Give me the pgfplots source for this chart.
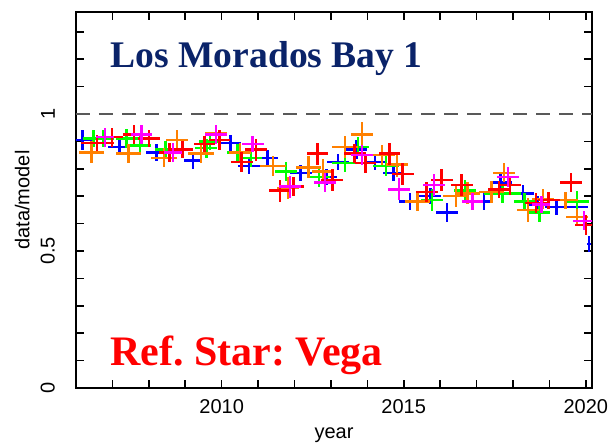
\documentclass[border=0pt]{standalone}
\usepackage{pgfplots}
\pgfplotsset{compat=1.18}
\usepackage{fontspec}
\setmainfont{Liberation Sans}
\newfontfamily\titlefont{Liberation Serif}
\definecolor{cblue}{RGB}{0,0,255}
\definecolor{cgreen}{RGB}{0,255,0}
\definecolor{corange}{RGB}{255,128,0}
\definecolor{cred}{RGB}{255,0,0}
\definecolor{cmag}{RGB}{255,0,255}
\definecolor{navy}{RGB}{10,35,105}
\frenchspacing
\begin{document}
\begin{tikzpicture}
\useasboundingbox (-38pt,-29.5pt) rectangle (267pt,194pt);
\begin{axis}[
  at={(0,0)}, anchor=south west,
  scale only axis, width=258pt, height=188pt,
  xmin=2006, xmax=2020.17, ymin=0, ymax=1.372,
  xtick={2010,2015,2020}, minor xtick={2007,2008,...,2019},
  ytick={0,0.5,1}, minor ytick={0.1,0.2,0.3,0.4,0.6,0.7,0.8,0.9,1.1,1.2,1.3},
  tick align=inside, major tick length=4pt, minor tick length=4pt,
  every tick/.style={black, line width=0.8pt},
  axis line style={line width=1pt},
  /pgf/number format/assume math mode=true,
  /pgf/number format/1000 sep={},
  tick label style={font=\fontsize{10}{12}\selectfont},
  yticklabel style={rotate=90, anchor=south},
  yticklabel shift=7pt,
  xticklabel shift=2pt,
  xlabel={year}, ylabel={data/model},
  label style={font=\fontsize{10}{12}\selectfont},
  xlabel style={at={(axis description cs:0.5,-0.125)}, anchor=center},
  ylabel style={at={(axis description cs:-0.104,0.5)}, anchor=center, rotate=0},
  clip=true,
  error bars/error bar style={line width=1.2pt},
  error bars/error mark=none,
]
\addplot[gray!70!black, line width=1.3pt, dash pattern=on 7pt off 4.5pt, forget plot] coordinates {(2006,1) (2020.17,1)};
% blue
\addplot[draw=none, mark=none, error bars/.cd, x dir=both, x explicit, y dir=both, y explicit, error bar style={color=cblue}]
table[x=x, y=y, x error=ex, y error=ey] {
x y ex ey
2006.18 0.905 0.3 0.035
2007.19 0.88 0.3 0.03
2008.21 0.86 0.3 0.03
2009.22 0.83 0.25 0.03
2010.24 0.895 0.3 0.03
2010.75 0.81 0.3 0.03
2011.26 0.84 0.3 0.03
2012.17 0.785 0.3 0.03
2012.88 0.77 0.3 0.03
2013.19 0.825 0.3 0.03
2013.70 0.87 0.3 0.035
2014.21 0.825 0.3 0.03
2014.72 0.785 0.3 0.03
2015.17 0.68 0.3 0.03
2015.73 0.70 0.3 0.03
2016.19 0.64 0.3 0.035
2017.21 0.68 0.25 0.03
2017.66 0.75 0.3 0.03
2018.27 0.71 0.3 0.03
2018.68 0.67 0.3 0.03
2019.19 0.66 0.3 0.03
2019.75 0.66 0.3 0.03
2020.09 0.525 0.06 0.03
};
% green
\addplot[draw=none, mark=none, error bars/.cd, x dir=both, x explicit, y dir=both, y explicit, error bar style={color=cgreen}]
table[x=x, y=y, x error=ex, y error=ey] {
x y ex ey
2006.48 0.91 0.3 0.03
2006.74 0.91 0.3 0.03
2007.39 0.91 0.3 0.035
2007.75 0.885 0.3 0.035
2008.46 0.87 0.3 0.03
2009.58 0.875 0.3 0.035
2009.68 0.90 0.3 0.03
2010.44 0.86 0.3 0.03
2010.80 0.84 0.3 0.035
2011.76 0.79 0.3 0.035
2012.68 0.77 0.3 0.035
2013.39 0.82 0.35 0.03
2013.74 0.88 0.3 0.035
2014.51 0.81 0.35 0.035
2015.78 0.685 0.3 0.04
2016.69 0.72 0.3 0.04
2017.71 0.71 0.5 0.035
2018.32 0.68 0.3 0.03
2018.73 0.64 0.3 0.035
2019.75 0.68 0.35 0.04
};
% orange
\addplot[draw=none, mark=none, error bars/.cd, x dir=both, x explicit, y dir=both, y explicit, error bar style={color=corange}]
table[x=x, y=y, x error=ex, y error=ey] {
x y ex ey
2006.43 0.86 0.35 0.04
2007.44 0.855 0.35 0.035
2008.41 0.84 0.35 0.035
2008.77 0.905 0.3 0.035
2009.43 0.855 0.35 0.035
2009.84 0.93 0.3 0.03
2010.50 0.86 0.3 0.035
2011.41 0.81 0.35 0.035
2011.82 0.73 0.3 0.04
2012.38 0.805 0.35 0.04
2012.78 0.79 0.3 0.045
2013.39 0.88 0.35 0.04
2013.85 0.925 0.3 0.045
2014.41 0.85 0.35 0.035
2014.82 0.815 0.3 0.045
2015.38 0.68 0.35 0.035
2016.44 0.70 0.35 0.04
2016.75 0.71 0.35 0.04
2017.41 0.715 0.35 0.04
2017.76 0.785 0.3 0.035
2018.42 0.65 0.3 0.045
2018.83 0.69 0.3 0.035
2019.44 0.685 0.35 0.03
2019.75 0.625 0.3 0.03
};
% red
\addplot[draw=none, mark=none, error bars/.cd, x dir=both, x explicit, y dir=both, y explicit, error bar style={color=cred}]
table[x=x, y=y, x error=ex, y error=ey] {
x y ex ey
2006.58 0.895 0.45 0.03
2006.99 0.915 0.3 0.035
2007.60 0.925 0.3 0.035
2008.01 0.91 0.3 0.03
2008.57 0.86 0.3 0.035
2008.92 0.87 0.3 0.03
2009.53 0.89 0.3 0.03
2009.94 0.905 0.3 0.035
2010.55 0.825 0.3 0.035
2010.95 0.87 0.3 0.04
2011.61 0.72 0.3 0.04
2011.97 0.735 0.3 0.035
2012.63 0.855 0.3 0.04
2013.04 0.76 0.3 0.04
2013.65 0.855 0.3 0.035
2013.95 0.82 0.3 0.035
2014.61 0.855 0.3 0.04
2014.97 0.78 0.3 0.04
2015.63 0.715 0.3 0.035
2016.04 0.76 0.3 0.04
2016.59 0.74 0.3 0.04
2017.61 0.725 0.3 0.03
2017.91 0.74 0.3 0.035
2018.63 0.675 0.3 0.035
2018.98 0.685 0.3 0.03
2019.59 0.75 0.3 0.035
2020.00 0.595 0.3 0.035
};
% magenta
\addplot[draw=none, mark=none, error bars/.cd, x dir=both, x explicit, y dir=both, y explicit, error bar style={color=cmag}]
table[x=x, y=y, x error=ex, y error=ey] {
x y ex ey
2006.79 0.915 0.25 0.035
2007.80 0.925 0.3 0.035
2008.67 0.86 0.25 0.035
2009.84 0.925 0.3 0.035
2010.85 0.89 0.3 0.03
2011.87 0.735 0.3 0.04
2012.83 0.75 0.3 0.035
2013.85 0.85 0.3 0.035
2014.87 0.725 0.3 0.04
2015.83 0.74 0.3 0.04
2016.89 0.68 0.3 0.03
2017.86 0.77 0.3 0.035
2018.78 0.67 0.25 0.03
2019.95 0.61 0.3 0.035
};
\end{axis}
\node[anchor=base west, inner sep=0pt, text=navy, font=\titlefont\bfseries\fontsize{18.8}{20}\selectfont] at (17pt,160.2pt) {Los Morados Bay 1};
\node[anchor=base west, inner sep=0pt, text=cred, font=\titlefont\bfseries\fontsize{21}{24}\selectfont] at (17pt,11.5pt) {Ref. Star: Vega};
\end{tikzpicture}
\end{document}
